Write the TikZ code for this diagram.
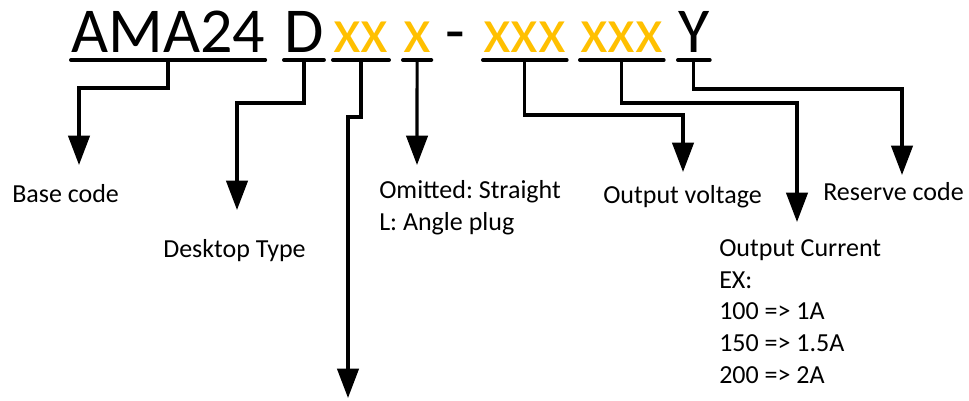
\documentclass[tikz,border=0pt]{standalone}
\usepackage{fontspec}
\setmainfont{Carlito}
\usetikzlibrary{arrows.meta,calc}
\definecolor{codeorange}{HTML}{FFC000}
\frenchspacing

\begin{document}
\begin{tikzpicture}[x=0.75pt, y=-0.75pt, >={Triangle[length=22pt,width=16pt]},
  part/.style={anchor=base west, inner sep=0pt, font=\fontsize{48}{56}\selectfont},
  uline/.style={line width=3pt, line cap=round},
  conn/.style={line width=2.4pt, ->},
  lbl/.style={anchor=base west, inner sep=0pt, align=left, font=\fontsize{19.5}{23.7}\selectfont}]
  \useasboundingbox (0,0) rectangle (969,400);
  \node[part] (base) at (71,52) {AMA24};
  \node[part] (desk) at (284,52) {D};
  \node[part, codeorange] (xx) at (333,52) {xx};
  \node[part, codeorange] (plug) at (403,52) {x};
  \node[part] (dash) at (445,52) {-};
  \node[part, codeorange] (volt) at (483,52) {xxx};
  \node[part, codeorange] (curr) at (580,52) {xxx};
  \node[part] (res) at (678,52) {Y};
  \foreach \n in {base,desk,xx,plug,volt,curr,res} {
    \draw[uline] ($(\n.base west)+(0,8)$) -- ($(\n.base east)+(0,8)$);
    \coordinate (\n-u) at ($(\n.base)+(0,8)$);
  }
  \coordinate (t-base) at (79,165);
  \coordinate (t-desk) at (237,210);
  \coordinate (t-xx) at (348,398);
  \coordinate (t-plug) at (417,165);
  \coordinate (t-volt) at (683,172);
  \coordinate (t-curr) at (797,222);
  \coordinate (t-res) at (902,175);
  \foreach \n/\d in {base/28, desk/43, xx/57, volt/55, curr/43, res/29}
    \draw[conn] (\n-u) -- ++(0,\d) -| (t-\n);
  \draw[conn] (plug-u) -- (t-plug);
  \node[lbl] (l-base) at (12,202) {Base code};
  \node[lbl] (l-desk) at (163,257) {Desktop Type};
  \node[lbl] (l-plug) at (379,230) {Omitted: Straight\\L: Angle plug};
  \node[lbl] (l-volt) at (603,203) {Output voltage};
  \node[lbl] (l-curr) at (719,383) {Output Current\\EX:\\100 => 1A\\150 => 1.5A\\200 => 2A};
  \node[lbl] (l-res) at (823,200) {Reserve code};
\end{tikzpicture}
\end{document}
